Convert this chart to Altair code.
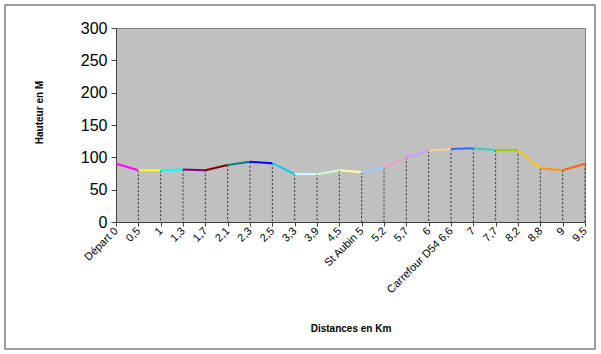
import altair as alt
import pandas as pd

categories = ["Départ 0", "0,5", "1", "1,3", "1,7", "2,1", "2,3", "2,5", "3,3", "3,9",
              "4,5", "St Aubin 5", "5,2", "5,7", "6", "Carrefour D54  6,6", "7", "7,7",
              "8,2", "8,8", "9", "9,5"]
heights = [90, 80, 80, 81, 80, 88, 93, 91, 74, 74,
           80, 77, 84, 100, 110, 113, 114, 111, 111, 83,
           80, 90]
segment_colors = ["#FF00FF", "#FFFF00", "#00FFFF", "#800080", "#800000", "#008080",
                  "#0000FF", "#00CCFF", "#CCFFFF", "#CCFFCC", "#FFFF99", "#99CCFF",
                  "#FF99CC", "#CC99FF", "#FFCC99", "#3366FF", "#33CCCC", "#99CC00",
                  "#FFCC00", "#FF9900", "#FF6600"]
y_ticks = [0, 50, 100, 150, 200, 250, 300]

pts = pd.DataFrame({"cat": categories, "h": heights})
segs = pd.DataFrame({
    "c1": categories[:-1], "c2": categories[1:],
    "h1": heights[:-1], "h2": heights[1:],
    "col": segment_colors,
})
drops = pts.iloc[1:].copy()

xscale = alt.Scale(type="point", domain=categories, padding=0)
yscale = alt.Scale(domain=[0, 300], nice=False)

xaxis = alt.Axis(title="Distances en Km", labelAngle=-45, labelAlign="right",
                 labelBaseline="middle", labelFontSize=11, labelFont="Liberation Sans",
                 labelColor="black", tickColor="#404040", tickSize=4, labelPadding=3,
                 labelOverlap=False, labelBound=False, labelLimit=200,
                 domainColor="#404040", titleFont="Liberation Sans", titleFontSize=10,
                 titleFontWeight="bold", titleColor="black", titleY=101, grid=False)
yaxis = alt.Axis(title="Hauteur en M", values=y_ticks,
                 tickCount=7, labelFontSize=16, labelFont="Liberation Sans", labelColor="black",
                 labelOverlap=False, labelBound=False,
                 tickColor="#404040", tickSize=5, labelPadding=4, domainColor="#404040",
                 titleFont="Liberation Sans", titleFontSize=10, titleFontWeight="bold",
                 titleColor="black", titleX=-72, titleY=84, grid=False)

frame = alt.Chart(pd.DataFrame({"a": [0]})).mark_rect(
    fill=None, stroke="#808080", strokeWidth=1.5
).encode(x=alt.value(-111), x2=alt.value(479), y=alt.value(-23), y2=alt.value(321))

drop_layer = alt.Chart(drops).mark_rule(color="#303030", strokeDash=[2, 2], strokeWidth=1).encode(
    x=alt.X("cat:O", scale=xscale, axis=xaxis, sort=categories),
    y=alt.Y("h:Q", scale=yscale, axis=yaxis),
    y2=alt.datum(0),
)

line_layer = alt.Chart(segs).mark_rule(strokeWidth=2).encode(
    x=alt.X("c1:O", scale=xscale, sort=categories, axis=xaxis),
    x2="c2",
    y=alt.Y("h1:Q", scale=yscale, axis=yaxis),
    y2="h2",
    color=alt.Color("col:N", scale=None),
)

chart = alt.layer(frame, drop_layer, line_layer).properties(
    width=469, height=194,
    autosize=alt.AutoSizeParams(type="none"),
    padding={"left": 116, "top": 28, "right": 16, "bottom": 132},
    background="white",
).configure_view(fill="#C0C0C0", stroke="#808080", strokeWidth=1)

chart.save("out.html", embed_options={"renderer": "svg", "actions": False})
